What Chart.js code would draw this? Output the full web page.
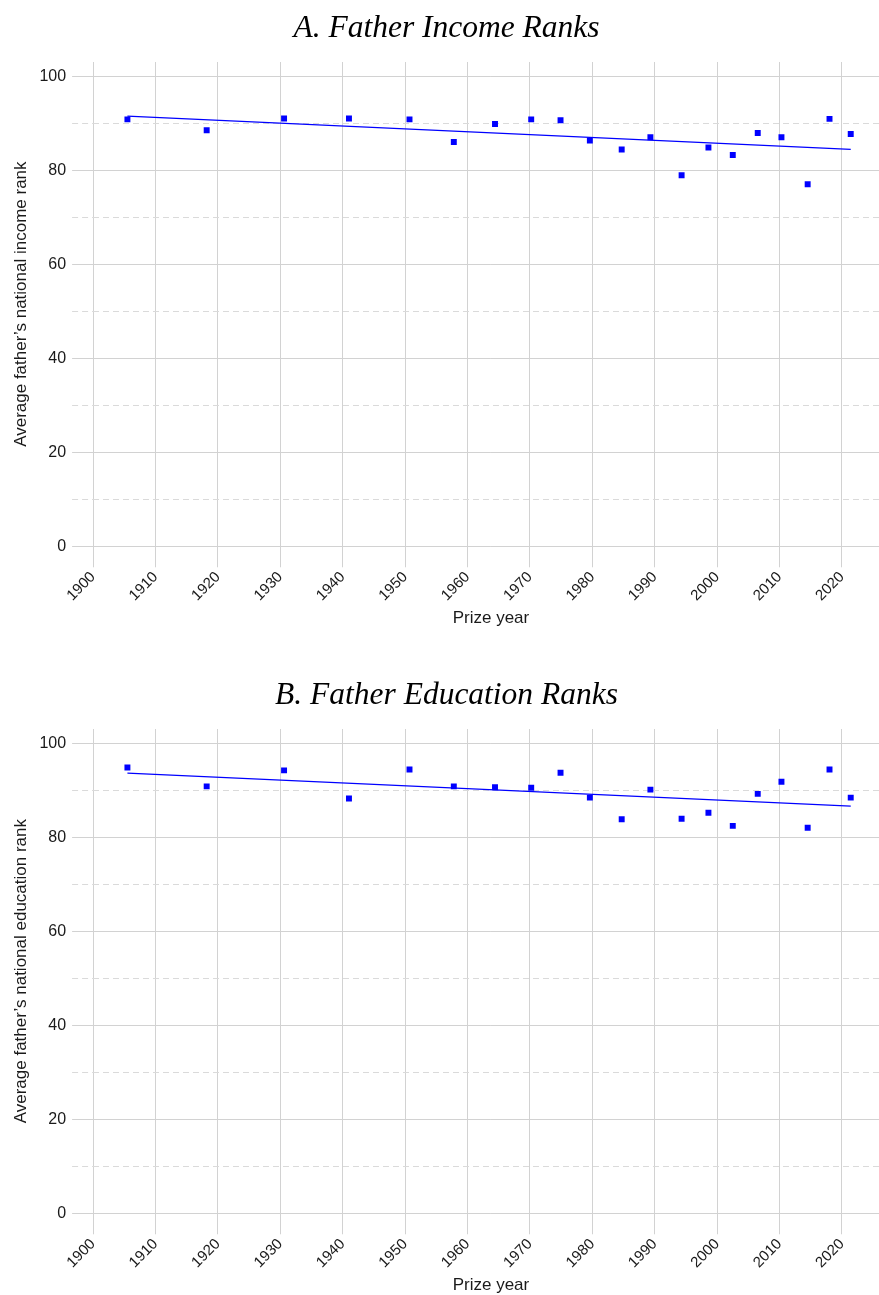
<!DOCTYPE html>
<html>
<head>
<meta charset="utf-8">
<title>Father Income and Education Ranks</title>
<script src="https://cdn.jsdelivr.net/npm/chart.js@4/dist/chart.umd.min.js"></script>
<style>
  html, body { margin: 0; padding: 0; background: #ffffff; }
  body { width: 879px; height: 1295px; position: relative; overflow: hidden; }
  /* panels run a little past the right edge; the plot is cut by the page at 879px */
  .panel { position: absolute; left: 0; width: 893px; height: 629px; }
  #panelA { top: 0; }
  #panelB { top: 667px; }
</style>
</head>
<body>
<div class="panel" id="panelA"><canvas id="chartA"></canvas></div>
<div class="panel" id="panelB"><canvas id="chartB"></canvas></div>
<script>
// Laureate cohorts: mean prize year of each cohort
const years = [1905.5, 1918.2, 1930.6, 1941.0, 1950.7, 1957.8, 1964.4, 1970.2, 1974.9, 1979.6,
               1984.7, 1989.3, 1994.3, 1998.6, 2002.5, 2006.5, 2010.3, 2014.5, 2018.0, 2021.4];

// Average father's national income rank per cohort
const fatherIncomeRank = [90.8, 88.5, 91.0, 91.0, 90.8, 86.0, 89.8, 90.8, 90.6, 86.3,
                          84.4, 87.0, 78.9, 84.8, 83.2, 87.9, 87.0, 77.0, 90.9, 87.7];

// Average father's national education rank per cohort
const fatherEducationRank = [94.8, 90.8, 94.2, 88.2, 94.4, 90.8, 90.6, 90.5, 93.7, 88.4,
                             83.8, 90.1, 83.9, 85.2, 82.4, 89.2, 91.8, 82.0, 94.4, 88.4];

// Linear trend, given by its two end points
const fitYears = [1905.5, 2021.4];
const incomeFit = [91.5, 84.4];
const educationFit = [93.6, 86.6];

// Axis ticks
const yearTicks = [1900, 1910, 1920, 1930, 1940, 1950, 1960, 1970, 1980, 1990, 2000, 2010, 2020];
const rankTicks = [0, 10, 20, 30, 40, 50, 60, 70, 80, 90, 100];
const labelledRanks = [0, 20, 40, 60, 80, 100];

const SANS = "'Liberation Sans', Arial, Helvetica, sans-serif";
const SERIF = "'Liberation Serif', 'Times New Roman', Times, serif";
const MAJOR_GRID = '#d2d2d2';
const MINOR_GRID = '#dadada';

const isMinor = (ctx) => ctx.tick && !labelledRanks.includes(ctx.tick.value);

function makePanel(canvasId, titleText, yTitle, values, fitValues) {
  const points = years.map((x, i) => ({ x: x, y: values[i] }));
  const trend = fitYears.map((x, i) => ({ x: x, y: fitValues[i] }));

  return new Chart(document.getElementById(canvasId), {
    type: 'scatter',
    data: {
      datasets: [
        {
          data: points,
          pointStyle: 'rect',
          pointRadius: 4.2,
          pointHoverRadius: 4.2,
          backgroundColor: '#0000ff',
          borderWidth: 0
        },
        {
          data: trend,
          showLine: true,
          borderColor: '#0000ff',
          borderWidth: 1.3,
          pointRadius: 0,
          pointHoverRadius: 0,
          fill: false
        }
      ]
    },
    options: {
      responsive: true,
      maintainAspectRatio: false,
      animation: false,
      events: [],
      layout: { padding: { left: 0, right: 0, top: 0, bottom: 0 } },
      plugins: {
        legend: { display: false },
        tooltip: { enabled: false },
        title: {
          display: true,
          text: titleText,
          color: '#000000',
          font: { family: SERIF, size: 31.5, style: 'italic', weight: 'normal', lineHeight: 1.2 },
          padding: { top: 10, bottom: 14.2 }
        }
      },
      scales: {
        x: {
          type: 'linear',
          min: 1900,
          max: 2027.5,
          afterBuildTicks: (scale) => { scale.ticks = yearTicks.map(v => ({ value: v })); },
          ticks: {
            autoSkip: false,
            minRotation: 45,
            maxRotation: 45,
            padding: 1,
            color: '#1a1a1a',
            font: { family: SANS, size: 15 },
            callback: (v) => String(v)
          },
          grid: {
            color: MAJOR_GRID,
            lineWidth: 1,
            drawTicks: true,
            tickLength: 21,
            tickColor: MAJOR_GRID
          },
          border: { display: false },
          title: {
            display: true,
            text: 'Prize year',
            color: '#1a1a1a',
            font: { family: SANS, size: 17, lineHeight: 1.2 },
            padding: { top: 3, bottom: 0 }
          }
        },
        y: {
          type: 'linear',
          min: 0,
          max: 103,
          afterBuildTicks: (scale) => { scale.ticks = rankTicks.map(v => ({ value: v })); },
          ticks: {
            autoSkip: false,
            padding: 6,
            color: '#1a1a1a',
            font: { family: SANS, size: 16 },
            callback: (v) => labelledRanks.includes(v) ? String(v) : ''
          },
          grid: {
            color: (ctx) => isMinor(ctx) ? MINOR_GRID : MAJOR_GRID,
            lineWidth: 1,
            drawTicks: true,
            tickLength: 21,
            tickColor: (ctx) => isMinor(ctx) ? MINOR_GRID : MAJOR_GRID,
            tickBorderDash: (ctx) => isMinor(ctx) ? [6, 4] : []
          },
          border: {
            display: false,
            dash: (ctx) => isMinor(ctx) ? [6, 4] : []
          },
          title: {
            display: true,
            text: yTitle,
            color: '#1a1a1a',
            font: { family: SANS, size: 17, lineHeight: 1.2 },
            padding: { top: 11, bottom: 2 }
          }
        }
      }
    }
  });
}

makePanel('chartA', 'A. Father Income Ranks',
          'Average father\u2019s national income rank', fatherIncomeRank, incomeFit);
makePanel('chartB', 'B. Father Education Ranks',
          'Average father\u2019s national education rank', fatherEducationRank, educationFit);
</script>
</body>
</html>
